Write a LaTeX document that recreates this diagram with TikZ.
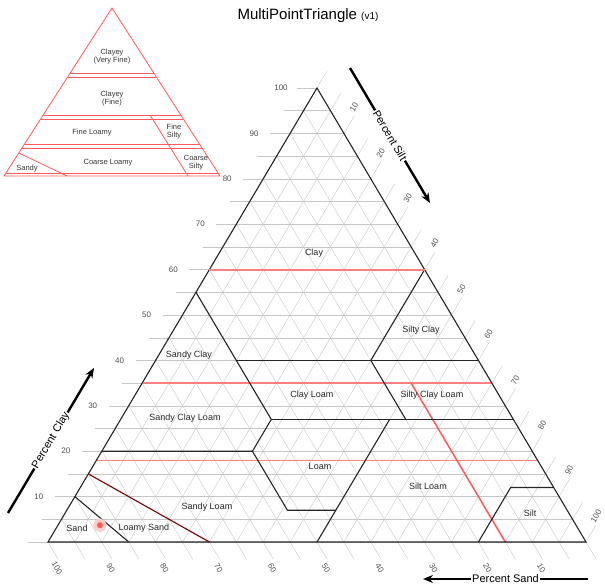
\documentclass[tikz,border=0pt]{standalone}
\usepackage{fontspec}
\setmainfont{Liberation Sans}
\usetikzlibrary{arrows.meta}
\begin{document}
\begin{tikzpicture}[x=1pt,y=-1pt,
  grid/.style={gray!45,line width=0.4pt},
  bound/.style={black!85,line width=1.1pt},
  family/.style={red!50,line width=1.5pt},
  inset/.style={red!65,line width=0.8pt},
  zone/.style={font=\fontsize{9}{10}\selectfont,text=black!85},
  insetlabel/.style={font=\fontsize{7.5}{8}\selectfont,align=center,text=black!80,inner sep=0pt},
  tick/.style={font=\fontsize{8}{9}\selectfont,text=black!70,inner sep=0pt},
  axis/.style={line width=2.4pt,-{Stealth[length=10pt,width=8pt]}},
  axislabel/.style={fill=white,inner sep=1pt,font=\fontsize{11}{12}\selectfont}]
\useasboundingbox (0,0) rectangle (605,588);
\node (title) at (308,16) {\fontsize{15}{16}\selectfont MultiPointTriangle {\fontsize{10}{11}\selectfont (v1)}};

% inset
\draw[inset] (112,8) -- (4,176) -- (220,176) -- cycle;
\foreach \y in {73,77,115,119,144,148,173}
  \draw[inset] ({112-0.6429*(\y-8)},\y) -- ({112+0.6429*(\y-8)},\y);
\draw[inset] (150,115) -- (188,176);
\draw[inset] (19,153) -- (67,176);
\node[insetlabel] (vfine) at (112,57) {Clayey\\(Very Fine)};
\node[insetlabel] (fine) at (112,99) {Clayey\\(Fine)};
\node[insetlabel] (floamy) at (92,133) {Fine Loamy};
\node[insetlabel] (fsilty) at (174,132) {Fine\\Silty};
\node[insetlabel] (cloamy) at (108,163) {Coarse Loamy};
\node[insetlabel] (csilty) at (196,163) {Coarse\\Silty};
\node[insetlabel] (sandy) at (27,169) {Sandy};

% main triangle, (silt,clay)
\begin{scope}[shift={(48,542)},x={(5.38pt,0pt)},y={(2.69pt,4.54pt)}]
\foreach \k in {0,5,...,100}{
  \draw[grid] (-3.7,\k) -- ({100-\k},\k);
  \draw[grid] (\k,0) -- (\k,{103.8-\k});
  \draw[grid] (0,{100-\k}) -- ({103.8-\k},-3.8);
}
\draw[family] (0,18) -- (82,18);
\draw[family] (0,35) -- (65,35);
\draw[family,red!65] (50,35) -- (85,0);
\foreach \k in {10,20,...,100}{
  \node[tick,xshift=-36pt] (clay\k) at (0,\k) {\k};
  \node[tick,xshift=10pt,yshift=26pt,rotate=60] (silt\k) at (\k,{100-\k}) {\k};
  \node[tick,xshift=9pt,yshift=-26pt,rotate=-60] (sand\k) at ({100-\k},0) {\k};
}
\draw[bound] (0,0) -- (100,0) -- (0,100) -- cycle;
\draw[bound] (0,10) -- (15,0);
\draw[bound,red!45!black] (0,15) -- (30,0);
\draw[bound] (0,20) -- (28,20) -- (41,7) -- (50,7);
\draw[bound] (28,20) -- (28,27) -- (0,55);
\draw[bound] (28,27) -- (73,27);
\draw[bound] (15,40) -- (60,40);
\draw[bound] (53,27) -- (40,40) -- (40,60);
\draw[bound] (50,0) -- (50,27);
\draw[bound] (80,0) -- (80,12) -- (88,12);
\node[circle,fill=red!65,draw=red!20,line width=3.5pt,minimum size=10pt,inner sep=0pt] (sample) at (7.8,3.7) {};
\end{scope}
\draw[family] (209.4,270) -- (424.6,270);

\node[zone] (clay) at (314,253) {Clay};
\node[zone] (siltyclay) at (421,330) {Silty Clay};
\node[zone] (sandyclay) at (189,355) {Sandy Clay};
\node[zone] (clayloam) at (312,395) {Clay Loam};
\node[zone] (siltyclayloam) at (432,395) {Silty Clay Loam};
\node[zone] (sandyclayloam) at (185,418) {Sandy Clay Loam};
\node[zone] (loam) at (320,466) {Loam};
\node[zone] (siltloam) at (428,486) {Silt Loam};
\node[zone] (silt) at (530,513) {Silt};
\node[zone] (sandyloam) at (207,507) {Sandy Loam};
\node[zone] (sand) at (77,528) {Sand};
\node[zone] (loamysand) at (144,528) {Loamy Sand};

\coordinate (siltA) at (350,68);
\coordinate (siltB) at (430,203);
\coordinate (clayA) at (8,513);
\coordinate (clayB) at (94,368);
\coordinate (sandA) at (588,579);
\coordinate (sandB) at (423,579);
\draw[axis] (siltA) -- (siltB) node[axislabel,midway,sloped] (siltaxis) {Percent Silt};
\draw[axis] (clayA) -- (clayB) node[axislabel,midway,sloped] (clayaxis) {Percent Clay};
\draw[axis] (sandA) -- (sandB) node[axislabel,midway,sloped] (sandaxis) {Percent Sand};
\end{tikzpicture}
\end{document}
